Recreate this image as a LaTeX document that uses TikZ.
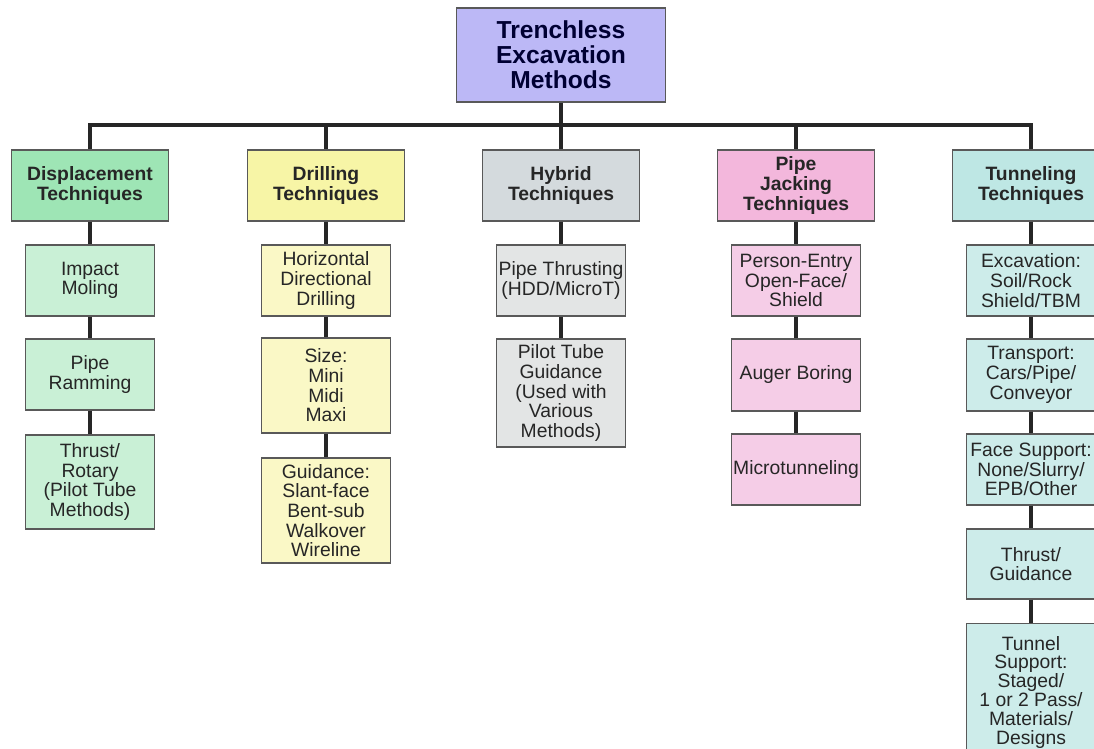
\documentclass[tikz,border=0pt]{standalone}
\usepackage{fontspec}
\setmainfont{Liberation Sans}
\usepackage{tikz}
\definecolor{topfill}{HTML}{BCB8F6}
\definecolor{dispfill}{HTML}{9EE5B5}
\definecolor{displite}{HTML}{C9F0D6}
\definecolor{drillfill}{HTML}{F7F5A6}
\definecolor{drilllite}{HTML}{FAF8C6}
\definecolor{hybfill}{HTML}{D4DADD}
\definecolor{hyblite}{HTML}{E3E5E5}
\definecolor{jackfill}{HTML}{F3B7DC}
\definecolor{jacklite}{HTML}{F5CDE7}
\definecolor{tunnfill}{HTML}{BEE7E4}
\definecolor{tunnlite}{HTML}{CDECEA}

\begin{document}
\begin{tikzpicture}
  [x=0.02cm,y=-0.02cm,every node/.style={rectangle,draw=gray!70!black,line width=0.8pt,align=center,inner sep=1pt,text=black!85}]
 \tikzset{EdgeStyle/.style={line width=1.9pt,black!85}}
 \tikzset{Head/.style={fill=topfill,minimum width=4.18cm,minimum height=1.88cm,text=blue!20!black,font=\bfseries\fontsize{14}{14.2}\selectfont}}
 \tikzset{Group/.style={minimum width=3.14cm,minimum height=1.42cm,font=\bfseries\fontsize{11}{11.4}\selectfont}}
 \tikzset{Item/.style={minimum width=2.58cm,font=\fontsize{11}{11.2}\selectfont}}
 \useasboundingbox (0,0) rectangle (1094,749);
 \fill[white] (0,0) rectangle (1094,749);
 \clip (0,0) rectangle (1094,749);

  \node[Head] (n0) at (561,55) {Trenchless\\Excavation\\Methods};

  \node[Group,fill=dispfill] (disp) at (90,185.5) {Displacement\\Techniques};
  \node[Group,fill=drillfill] (drill) at (326,185.5) {Drilling\\Techniques};
  \node[Group,fill=hybfill] (hyb) at (561,185.5) {Hybrid\\Techniques};
  \node[Group,fill=jackfill] (jack) at (796,185.5) {Pipe\\Jacking\\Techniques};
  \node[Group,fill=tunnfill] (tunn) at (1031,185.5) {Tunneling\\Techniques};

  \node[Item,fill=displite,minimum height=1.42cm] (disp1) at (90,280.5) {Impact\\Moling};
  \node[Item,fill=displite,minimum height=1.42cm] (disp2) at (90,374.5) {Pipe\\Ramming};
  \node[Item,fill=displite,minimum height=1.88cm] (disp3) at (90,482) {Thrust/\\Rotary\\(Pilot Tube\\Methods)};

  \node[Item,fill=drilllite,minimum height=1.42cm] (drill1) at (326,280.5) {Horizontal\\Directional\\Drilling};
  \node[Item,fill=drilllite,minimum height=1.9cm] (drill2) at (326,385.5) {Size:\\Mini\\Midi\\Maxi};
  \node[Item,fill=drilllite,minimum height=2.1cm] (drill3) at (326,510.5) {Guidance:\\Slant-face\\Bent-sub\\Walkover\\Wireline};

  \node[Item,fill=hyblite,minimum height=1.42cm] (hyb1) at (561,280.5) {Pipe Thrusting\\(HDD/MicroT)};
  \node[Item,fill=hyblite,minimum height=2.16cm] (hyb2) at (561,393) {Pilot Tube\\Guidance\\(Used with\\Various\\Methods)};

  \node[Item,fill=jacklite,minimum height=1.42cm] (jack1) at (796,280.5) {Person-Entry\\Open-Face/\\Shield};
  \node[Item,fill=jacklite,minimum height=1.44cm] (jack2) at (796,375) {Auger Boring};
  \node[Item,fill=jacklite,minimum height=1.42cm] (jack3) at (796,469.5) {Microtunneling};

  \node[Item,fill=tunnlite,minimum height=1.42cm] (tunn1) at (1031,280.5) {Excavation:\\Soil/Rock\\Shield/TBM};
  \node[Item,fill=tunnlite,minimum height=1.44cm] (tunn2) at (1031,375) {Transport:\\Cars/Pipe/\\Conveyor};
  \node[Item,fill=tunnlite,minimum height=1.42cm] (tunn3) at (1031,469.5) {Face Support:\\None/Slurry/\\EPB/Other};
  \node[Item,fill=tunnlite,minimum height=1.4cm] (tunn4) at (1031,564) {Thrust/\\Guidance};
  % last box runs off the bottom edge
  \node[Item,fill=tunnlite,anchor=north,inner ysep=7pt,font=\fontsize{11}{10.7}\selectfont] (tunn5) at (1031,623) {Tunnel\\Support:\\Staged/\\1 or 2 Pass/\\Materials/\\Designs\\\rule{0pt}{20pt}};

  \coordinate (bar) at (561,125);
  \draw[EdgeStyle] (n0) -- (bar);
 \foreach \to in {disp,drill,hyb,jack,tunn}
    \draw[EdgeStyle] (bar) -| (\to);

 \foreach \from/\to in {disp/disp1,disp1/disp2,disp2/disp3,drill/drill1,drill1/drill2,drill2/drill3,hyb/hyb1,hyb1/hyb2,jack/jack1,jack1/jack2,jack2/jack3,tunn/tunn1,tunn1/tunn2,tunn2/tunn3,tunn3/tunn4,tunn4/tunn5}
    \draw[EdgeStyle] (\from) -- (\to);

\end{tikzpicture}
\end{document}
